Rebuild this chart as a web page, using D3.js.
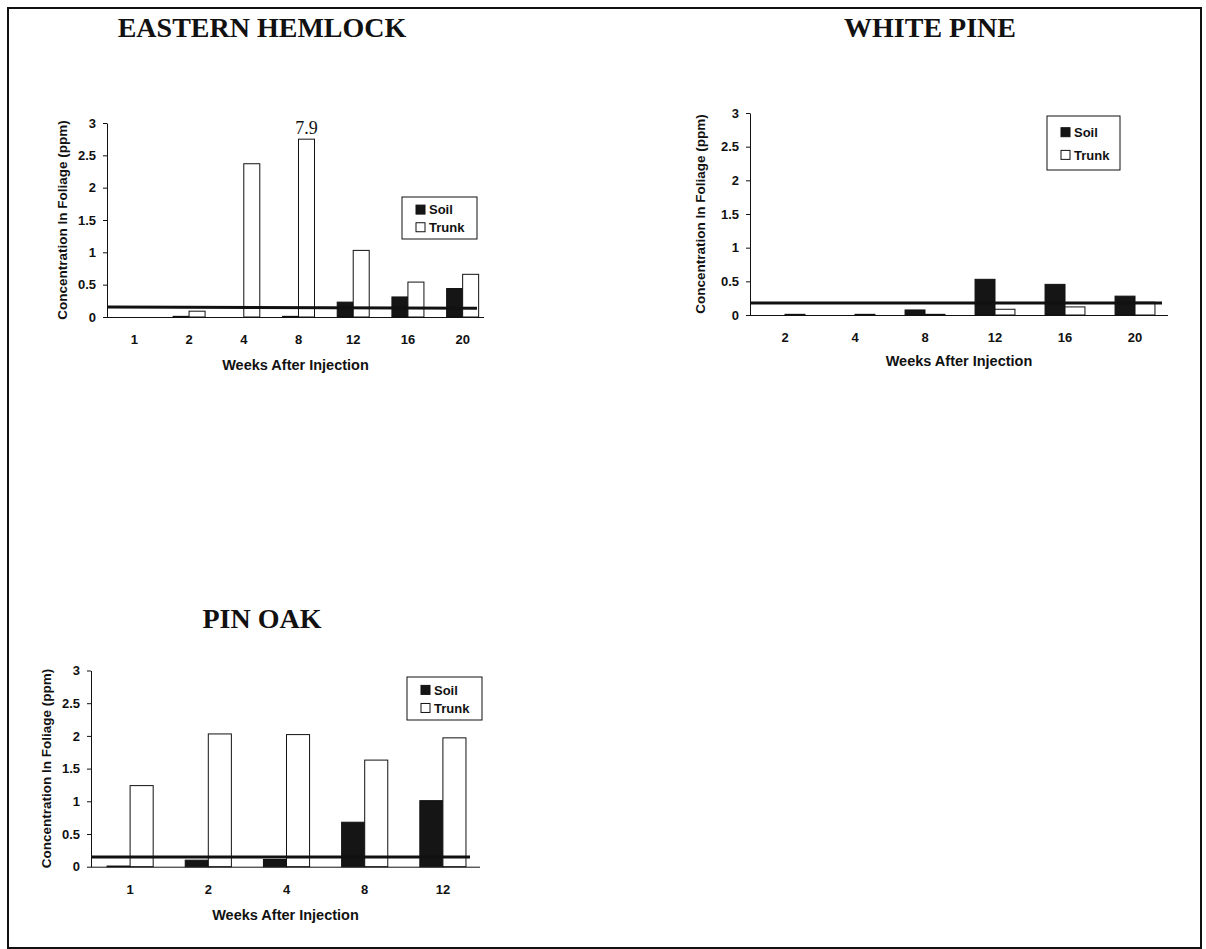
<!DOCTYPE html>
<html><head><meta charset="utf-8">
<script src="https://cdn.jsdelivr.net/npm/d3@7"></script>
<style>
body{margin:0;background:#fff}
svg text{font-family:Arial,"Liberation Sans",sans-serif;font-weight:bold;fill:#111}
</style>
</head><body>
<svg id="c" width="1206" height="949"></svg>
<script>
// ---- data ----
const seriesNames = ["Soil", "Trunk"];
const yTicks = [0, 0.5, 1, 1.5, 2, 2.5, 3];
const yTickLabels = ["0", "0.5", "1", "1.5", "2", "2.5", "3"];
const xTitle = "Weeks After Injection";
const yTitle = "Concentration In Foliage (ppm)";

const hemlockWeeks = ["1", "2", "4", "8", "12", "16", "20"];
const hemlockSoil  = [0, 0.01, 0, 0.01, 0.23, 0.31, 0.44];
const hemlockTrunk = [0, 0.09, 2.37, 2.75, 1.03, 0.54, 0.66];
const hemlockLimit = [0.155, 0.135];
const hemlockNotes = [{week: "8", series: "Trunk", text: "7.9"}];

const pineWeeks = ["2", "4", "8", "12", "16", "20"];
const pineSoil  = [0, 0, 0.075, 0.53, 0.455, 0.28];
const pineTrunk = [0.01, 0.01, 0.01, 0.085, 0.12, 0.19];
const pineLimit = [0.18, 0.18];

const oakWeeks = ["1", "2", "4", "8", "12"];
const oakSoil  = [0.01, 0.1, 0.11, 0.68, 1.01];
const oakTrunk = [1.24, 2.03, 2.02, 1.63, 1.97];
const oakLimit = [0.15, 0.15];

// ---- layout ----
const panels = [
  {title: "EASTERN HEMLOCK", tx: 262, ty: 37, weeks: hemlockWeeks, soil: hemlockSoil, trunk: hemlockTrunk,
   limit: hemlockLimit, limitEnd: 477, notes: hemlockNotes,
   xr: [107, 490], axisEnd: 484, y0: 317, y3: 123, pad: 0.415, ylx: 62, tickPad: 18, xlY: 370,
   leg: {x: 402, y: 197, w: 75, h: 42}},
  {title: "WHITE PINE", tx: 930, ty: 37, weeks: pineWeeks, soil: pineSoil, trunk: pineTrunk,
   limit: pineLimit, limitEnd: 1162, notes: [],
   xr: [750, 1170], axisEnd: 1168, y0: 315, y3: 113, pad: 0.43, ylx: 700, tickPad: 18, xlY: 366,
   leg: {x: 1047, y: 116, w: 73, h: 54}},
  {title: "PIN OAK", tx: 262, ty: 628, weeks: oakWeeks, soil: oakSoil, trunk: oakTrunk,
   limit: oakLimit, limitEnd: 470, notes: [],
   xr: [91, 482], axisEnd: 480, y0: 866.7, y3: 670.5, pad: 0.41, ylx: 46, tickPad: 18, xlY: 920,
   leg: {x: 407, y: 677, w: 75, h: 43}}
];

const svg = d3.select("#c");

// outer frame
svg.append("rect").attr("x", 8).attr("y", 8).attr("width", 1193).attr("height", 940)
  .attr("fill", "none").attr("stroke", "#111").attr("stroke-width", 2);

panels.forEach(p => {
  const g = svg.append("g");
  const x = d3.scaleBand().domain(p.weeks).range(p.xr).paddingInner(p.pad).paddingOuter(p.pad / 2);
  const x1 = d3.scaleBand().domain(seriesNames).range([0, x.bandwidth()]);
  const y = d3.scaleLinear().domain([0, 3]).range([p.y0, p.y3]);

  g.append("text").attr("x", p.tx).attr("y", p.ty).attr("text-anchor", "middle")
    .style("font-family", "'Liberation Serif','Times New Roman',serif")
    .style("font-size", "28px").style("font-weight", "bold").text(p.title);

  const rows = p.weeks.map((w, i) => ({week: w, values: [p.soil[i], p.trunk[i]]}));
  const grp = g.selectAll("g.cat").data(rows).join("g").attr("class", "cat")
    .attr("transform", d => `translate(${x(d.week)},0)`);
  grp.selectAll("rect").data(d => d.values.map((v, j) => ({s: seriesNames[j], v})))
    .join("rect")
    .attr("x", d => x1(d.s)).attr("width", x1.bandwidth())
    .attr("y", d => y(d.v)).attr("height", d => Math.max(0, y(0) - y(d.v)))
    .attr("fill", d => d.s === "Soil" ? "#151515" : "#fff")
    .attr("stroke", "#111").attr("stroke-width", 1);

  p.notes.forEach(n => {
    const i = p.weeks.indexOf(n.week);
    const v = (n.series === "Soil" ? p.soil : p.trunk)[i];
    g.append("text").attr("x", x(n.week) + x1(n.series) + x1.bandwidth() / 2).attr("y", y(v) - 5)
      .attr("text-anchor", "middle")
      .style("font-family", "'Liberation Serif','Times New Roman',serif")
      .style("font-weight", "normal").style("font-size", "18px").text(n.text);
  });

  g.append("line").attr("x1", p.xr[0]).attr("x2", p.limitEnd)
    .attr("y1", y(p.limit[0])).attr("y2", y(p.limit[1]))
    .attr("stroke", "#111").attr("stroke-width", 3);

  const ya = g.append("g").attr("transform", `translate(${p.xr[0]},0)`)
    .call(d3.axisLeft(y).tickValues(yTicks).tickFormat((d, i) => yTickLabels[i])
      .tickSize(4).tickSizeOuter(0).tickPadding(7));
  ya.selectAll("text").style("font-size", "13px");
  ya.selectAll("line,path").attr("stroke", "#111");

  const xa = g.append("g").attr("transform", `translate(0,${p.y0})`)
    .call(d3.axisBottom(x).tickSize(0).tickSizeOuter(0).tickPadding(p.tickPad));
  xa.selectAll("text").style("font-size", "13px");
  xa.select("path.domain").attr("stroke", "#111").attr("d", `M${p.xr[0]},0.5H${p.axisEnd}`);

  g.append("text").attr("x", (p.xr[0] + p.axisEnd) / 2).attr("y", p.xlY).attr("text-anchor", "middle")
    .style("font-size", "14.5px").text(xTitle);
  g.append("text").attr("transform", `translate(${p.ylx},${(p.y0 + p.y3) / 2}) rotate(-90)`)
    .attr("text-anchor", "middle").attr("dy", "0.35em").style("font-size", "13.5px").text(yTitle);

  const L = p.leg;
  const lg = g.append("g").attr("transform", `translate(${L.x},${L.y})`);
  lg.append("rect").attr("width", L.w).attr("height", L.h).attr("fill", "#fff")
    .attr("stroke", "#111").attr("stroke-width", 1);
  seriesNames.forEach((s, j) => {
    const cy = L.h * (j === 0 ? 0.3 : 0.72);
    lg.append("rect").attr("x", 14).attr("y", cy - 4.5).attr("width", 9).attr("height", 9)
      .attr("fill", s === "Soil" ? "#151515" : "#fff").attr("stroke", "#111").attr("stroke-width", 1);
    lg.append("text").attr("x", 27).attr("y", cy).attr("dy", "0.36em").style("font-size", "13px").text(s);
  });
});
</script>
</body></html>
